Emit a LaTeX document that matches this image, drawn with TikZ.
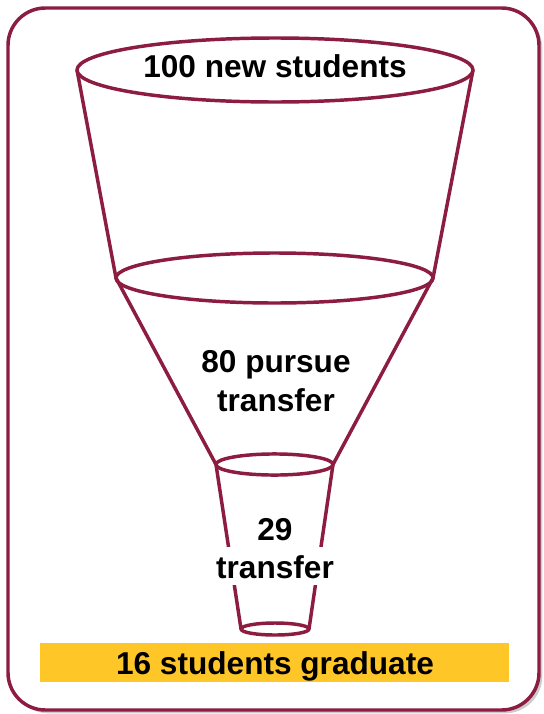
\documentclass[tikz,border=0pt]{standalone}
\usepackage{fontspec}
\setmainfont{Liberation Sans}
\usetikzlibrary{shadows}
\definecolor{asumaroon}{HTML}{8C1D40}
\definecolor{asugold}{HTML}{FFC627}
\begin{document}
\begin{tikzpicture}[x=0.75pt,y=-0.75pt,
  funnel/.style={draw=asumaroon,line width=2.6pt,line join=round},
  lbl/.style={anchor=base,inner sep=0pt,font=\fontsize{23.7pt}{28pt}\selectfont\bfseries,text=black},
  masked/.style={fill=white,inner xsep=1pt,text height=23pt,text depth=5pt}]
\useasboundingbox (0,0) rectangle (543,714);
% outer frame
\draw[draw=asumaroon,line width=2.6pt,fill=white,rounded corners=28pt,
  drop shadow={shadow xshift=2.5pt,shadow yshift=-2.5pt,opacity=0.4}]
  (8,8) rectangle (539,710);
% yellow bar
\fill[asugold] (40,643) rectangle (509,682);
% funnel sides
\coordinate (t1) at (77,70);
\coordinate (t2) at (473,70);
\coordinate (m1) at (116,278);
\coordinate (m2) at (433,278);
\coordinate (s1) at (216,464.5);
\coordinate (s2) at (333,464.5);
\coordinate (b1) at (241,629);
\coordinate (b2) at (309,629);
\draw[funnel] (t1) -- (m1) -- (s1) -- (b1);
\draw[funnel] (t2) -- (m2) -- (s2) -- (b2);
% ellipses
\draw[funnel,fill=white] (275,70) ellipse [x radius=148.5pt,y radius=24pt];
\draw[funnel] (274.5,278) ellipse [x radius=118.9pt,y radius=18.75pt];
\draw[funnel] (274.5,464.5) ellipse [x radius=43.9pt,y radius=7.9pt];
\draw[funnel] (275,629) ellipse [x radius=25.5pt,y radius=4.5pt];
% labels
\node[lbl] (l100) at (275,77) {100 new students};
\node[lbl] (l80a) at (276,372) {80 pursue};
\node[lbl] (l80b) at (276,411) {transfer};
\node[lbl] (l29a) at (275,540) {29};
\node[lbl,masked] (l29b) at (275,578) {transfer};
\node[lbl] (l16) at (275,674) {16 students graduate};
\end{tikzpicture}
\end{document}
